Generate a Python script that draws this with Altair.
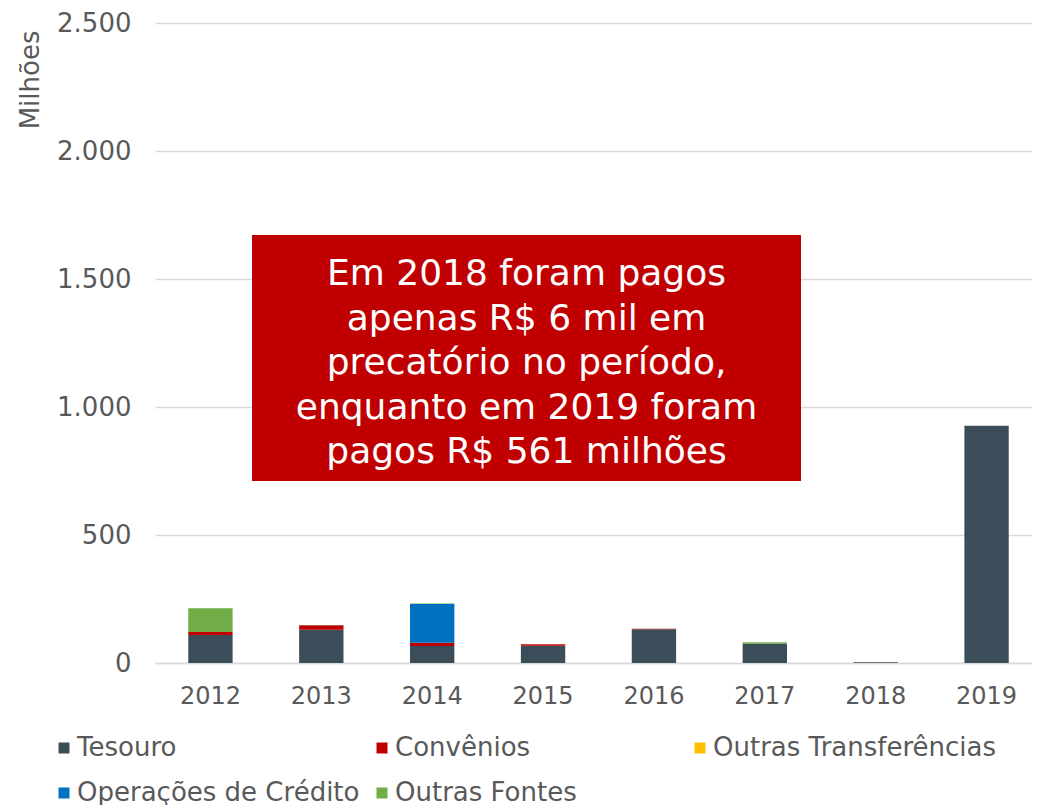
import altair as alt
import pandas as pd

years = ["2012", "2013", "2014", "2015", "2016", "2017", "2018", "2019"]
series = ["Tesouro", "Convênios", "Outras Transferências", "Operações de Crédito", "Outras Fontes"]
colors = ["#3A4D58", "#C00000", "#FFC000", "#0070C0", "#70AD47"]

tesouro = [109, 130, 66, 67, 132, 75, 3, 927]
convenios = [12, 17, 13, 6, 2, 0, 0, 0]
outras_transf = [0, 0, 0, 0, 0, 0, 0, 0]
operacoes = [0, 0, 151, 0, 0, 0, 0, 0]
outras_fontes = [93, 1, 2, 0, 0, 6, 0, 0]

note_lines = [
    "Em 2018 foram pagos",
    "apenas R$ 6 mil em",
    "precatório no período,",
    "enquanto em 2019 foram",
    "pagos R$ 561 milhões",
]

values = [tesouro, convenios, outras_transf, operacoes, outras_fontes]
rows = []
for k, (name, vals) in enumerate(zip(series, values)):
    for y, v in zip(years, vals):
        rows.append({"ano": y, "fonte": name, "valor": v, "ord": k})
df = pd.DataFrame(rows)

FONT = "DejaVu Sans"
GRAY = "#595959"

bars = alt.Chart(df).mark_bar().encode(
    x=alt.X(
        "ano:N",
        sort=years,
        scale=alt.Scale(paddingInner=0.6, paddingOuter=0.3, range=[0, 887]),
        axis=alt.Axis(
            title=None, labelAngle=0, ticks=False, grid=False,
            labelFontSize=24, labelColor=GRAY, labelFont=FONT, labelPadding=21,
            domainColor="#D9D9D9", domainWidth=1.5,
        ),
    ),
    y=alt.Y(
        "valor:Q",
        stack="zero",
        scale=alt.Scale(domain=[0, 2500]),
        axis=alt.Axis(
            values=[0, 500, 1000, 1500, 2000, 2500],
            labelExpr="replace(format(datum.value, ','), ',', '.')",
            title="Milhões", titleFont=FONT, titleFontSize=26, titleFontWeight="normal",
            titleColor=GRAY, titleAngle=270, titleAlign="right", titleBaseline="middle",
            titleX=-125, titleY=7,
            labelFontSize=26, labelColor=GRAY, labelFont=FONT, labelPadding=24,
            ticks=False, domain=False, gridColor="#D9D9D9", gridWidth=1.3,
        ),
    ),
    color=alt.Color(
        "fonte:N",
        scale=alt.Scale(domain=series, range=colors),
        legend=alt.Legend(
            title=None, orient="none", legendX=-104, legendY=712, columns=3,
            direction="horizontal",
            gridAlign="all", columnPadding=8, rowPadding=19, padding=0,
            symbolType="square", symbolSize=121, symbolStrokeWidth=0,
            labelFont=FONT, labelFontSize=26, labelColor=GRAY, labelOffset=0,
            labelLimit=500,
        ),
    ),
    order=alt.Order("ord:Q", sort="ascending"),
)

box = alt.Chart(pd.DataFrame({"t": [note_lines]})).mark_rect(color="#C00000").encode(
    x=alt.value(97), x2=alt.value(646), y=alt.value(212), y2=alt.value(458)
)
note = alt.Chart(pd.DataFrame({"t": [note_lines]})).mark_text(
    font=FONT, fontSize=36, color="white", align="center", baseline="middle", lineHeight=44.5
).encode(
    x=alt.value(371.5), y=alt.value(251), text="t"
)

chart = alt.layer(bars, box, note).properties(
    width=877, height=640,
    autosize=alt.AutoSizeParams(type="none"),
    padding={"left": 147, "top": 15, "right": 0, "bottom": 150},
    background="white",
).configure_view(stroke=None)

chart.save("out.html", embed_options={"renderer": "svg", "actions": False})
